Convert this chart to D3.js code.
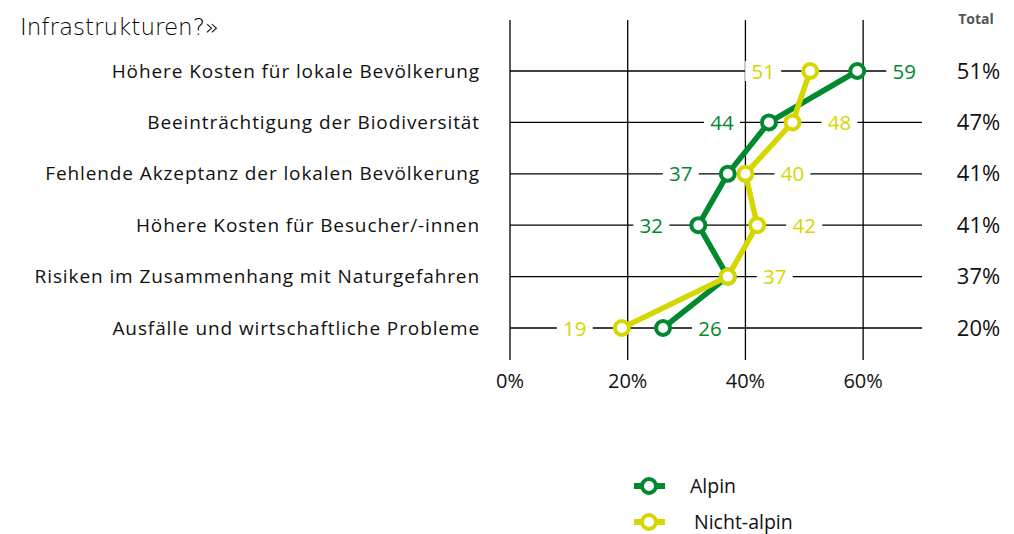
<!DOCTYPE html>
<html><head><meta charset="utf-8">
<script src="https://cdn.jsdelivr.net/npm/d3@7"></script>
<style>body{margin:0;background:#fff}svg{display:block}</style>
</head><body>
<svg id="c" width="1014" height="534"></svg>
<script>
const categories = [
  "Höhere Kosten für lokale Bevölkerung",
  "Beeinträchtigung der Biodiversität",
  "Fehlende Akzeptanz der lokalen Bevölkerung",
  "Höhere Kosten für Besucher/-innen",
  "Risiken im Zusammenhang mit Naturgefahren",
  "Ausfälle und wirtschaftliche Probleme"
];
const alpin = [59, 44, 37, 32, 37, 26];
const nichtAlpin = [51, 48, 40, 42, 37, 19];
const totals = ["51%", "47%", "41%", "41%", "37%", "20%"];
const alpinLabelSide = [1, -1, -1, -1, 0, 1];
const nichtLabelSide = [-1, 1, 1, 1, 1, -1];
const xTicks = [0, 20, 40, 60];
const seriesNames = ["Alpin", "Nicht-alpin"];

const GREEN = "#00892f", YELLOW = "#d6d600";
const svg = d3.select("#c");
const font = "'Open Sans', 'Noto Sans', sans-serif";

const x = d3.scaleLinear().domain([0, 70]).range([510, 922]);
const y = d3.scalePoint().domain(categories).range([71, 328]);

// title
svg.append("text").attr("x", 20).attr("y", 35).attr("font-family", "'DejaVu Sans', sans-serif")
  .attr("font-size", 23).attr("font-weight", 200).attr("fill", "#000")
  .text("Infrastrukturen?»");

// grid
const g = svg.append("g");
g.selectAll("line.v").data(xTicks).join("line")
  .attr("x1", d => x(d)).attr("x2", d => x(d)).attr("y1", 20).attr("y2", 360)
  .attr("stroke", "#000").attr("stroke-width", 1.3);
g.selectAll("line.h").data(categories).join("line")
  .attr("x1", x(0)).attr("x2", x(70)).attr("y1", d => y(d)).attr("y2", d => y(d))
  .attr("stroke", "#000").attr("stroke-width", 1.3);

// x tick labels
svg.selectAll("text.xt").data(xTicks).join("text")
  .attr("x", d => x(d)).attr("y", 388).attr("text-anchor", "middle")
  .attr("font-family", font).attr("font-size", 20).attr("fill", "#111")
  .text(d => d + "%");

// category labels
svg.selectAll("text.cat").data(categories).join("text")
  .attr("x", 480).attr("y", d => y(d) + 6.5).attr("text-anchor", "end")
  .attr("font-family", font).attr("font-size", 19).attr("letter-spacing", 0.9).attr("fill", "#111")
  .text(d => d);

// total
svg.append("text").attr("x", 976).attr("y", 24).attr("text-anchor", "middle")
  .attr("font-family", font).attr("font-size", 14).attr("font-weight", 700).attr("fill", "#555").text("Total");
svg.selectAll("text.tot").data(totals).join("text")
  .attr("x", 978.5).attr("y", (d, i) => y(categories[i]) + 7.5).attr("text-anchor", "middle")
  .attr("font-family", font).attr("font-size", 22).attr("fill", "#111").text(d => d);

// value labels
function labels(vals, sides, color) {
  vals.forEach((v, i) => {
    if (!sides[i]) return;
    const cx = x(v) + sides[i] * 47, cy = y(categories[i]);
    svg.append("rect").attr("x", cx - 18).attr("y", cy - 10).attr("width", 36).attr("height", 20).attr("fill", "#fff");
    svg.append("text").attr("x", cx).attr("y", cy + 7.5).attr("text-anchor", "middle")
      .attr("font-family", font).attr("font-size", 20.5).attr("fill", color).text(v);
  });
}
labels(alpin, alpinLabelSide, GREEN);
labels(nichtAlpin, nichtLabelSide, YELLOW);

// series
const line = d3.line().x(d => x(d.v)).y(d => y(d.c));
function series(vals, color) {
  const data = vals.map((v, i) => ({v, c: categories[i]}));
  svg.append("path").datum(data).attr("d", line).attr("fill", "none")
    .attr("stroke", color).attr("stroke-width", 5.5).attr("stroke-linejoin", "round");
  svg.selectAll(null).data(data).join("circle")
    .attr("cx", d => x(d.v)).attr("cy", d => y(d.c)).attr("r", 7)
    .attr("fill", "#fff").attr("stroke", color).attr("stroke-width", 4);
}
series(alpin, GREEN);
series(nichtAlpin, YELLOW);

// legend
const leg = [{n: seriesNames[0], c: GREEN, y: 486, tx: 690}, {n: seriesNames[1], c: YELLOW, y: 522, tx: 694}];
leg.forEach(l => {
  svg.append("line").attr("x1", 634).attr("x2", 665).attr("y1", l.y).attr("y2", l.y)
    .attr("stroke", l.c).attr("stroke-width", 6);
  svg.append("circle").attr("cx", 649).attr("cy", l.y).attr("r", 7).attr("fill", "#fff")
    .attr("stroke", l.c).attr("stroke-width", 4);
  svg.append("text").attr("x", l.tx).attr("y", l.y + 7).attr("font-family", font)
    .attr("font-size", 19.5).attr("fill", "#111").text(l.n);
});
</script>
</body></html>
